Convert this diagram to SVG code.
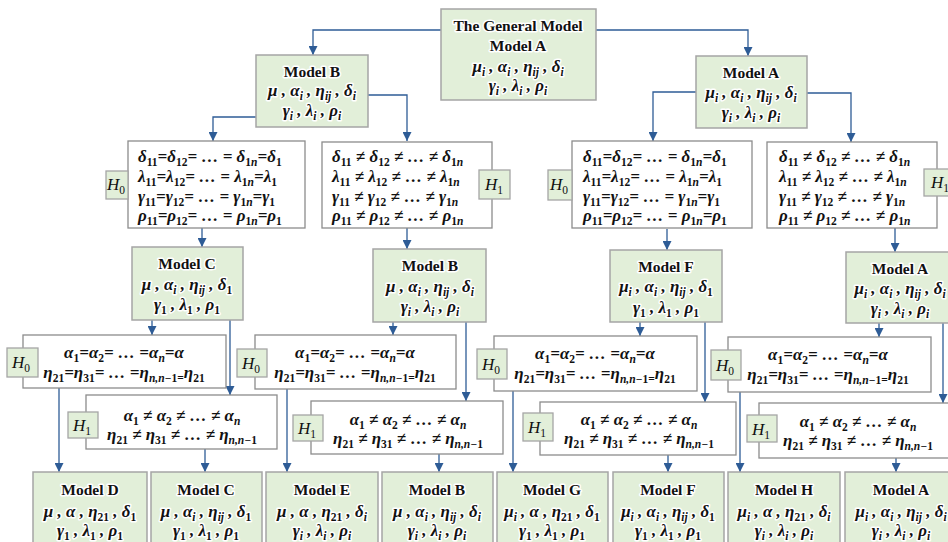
<svg xmlns="http://www.w3.org/2000/svg" width="948" height="542" viewBox="0 0 948 542">
<defs>
<marker id="ah" markerUnits="userSpaceOnUse" markerWidth="9" markerHeight="9" refX="9" refY="4.5" orient="auto"><path d="M0,0 L9,4.5 L0,9 z" fill="#2e5c96"/></marker>
<style>
.g{fill:#e2efd9;stroke:#a5a5a5;stroke-width:1.5}
.w{fill:#fff;stroke:#8c8c8c;stroke-width:1.3}
.hl{fill:#e2efd9;stroke:#a5a5a5;stroke-width:1.3}
text{font-family:"Liberation Serif","DejaVu Serif",serif;fill:#111}
.t{font-size:15.5px;font-weight:bold;text-anchor:middle}
.m{font-size:17px;font-weight:bold;font-style:italic;text-anchor:middle}
.ml{font-size:17px;font-weight:bold;font-style:italic}
.gl{stroke:#fff;stroke-width:3;stroke-linejoin:round;paint-order:stroke}
.s{font-size:11.5px}
.n{font-size:11.5px;font-style:normal}
.h{font-size:17px;font-style:italic;text-anchor:middle}
.c{fill:none;stroke:#2e5c96;stroke-width:1.3;marker-end:url(#ah)}
</style>
</defs>

<g id="connectors">
<path class="c" d="M441,30 H313 V55"/>
<path class="c" d="M596,30 H748 V56"/>
<path class="c" d="M256,117 H213 V141"/>
<path class="c" d="M368,95 H407 V141"/>
<path class="c" d="M696,92 H653 V141"/>
<path class="c" d="M807,93 H851 V142"/>
<path class="c" d="M202,228 V247"/>
<path class="c" d="M407,228 V249"/>
<path class="c" d="M667,229 V250"/>
<path class="c" d="M895,228 V252"/>
<path class="c" d="M152,320 V335"/>
<path class="c" d="M230,320 V395"/>
<path class="c" d="M393,322 V335"/>
<path class="c" d="M466,322 V401"/>
<path class="c" d="M640,322 V336"/>
<path class="c" d="M705,322 V402"/>
<path class="c" d="M879,323 V337"/>
<path class="c" d="M943,323 V403"/>
<path class="c" d="M59,388 V472"/>
<path class="c" d="M205,449 V472"/>
<path class="c" d="M287,389 V472"/>
<path class="c" d="M439,454 V472"/>
<path class="c" d="M513,391 V472"/>
<path class="c" d="M668,455 V472"/>
<path class="c" d="M740,392 V472"/>
<path class="c" d="M896,458 V472"/>
</g>

<g id="general">
<rect class="g" x="441" y="9" width="155" height="91"/>
<text class="t gl" x="518" y="31">The General Model</text>
<text class="t gl" x="518" y="51">Model A</text>
<text class="m gl" x="518" y="72">μ<tspan class="s" dy="3.5">i</tspan><tspan dy="-3.5"> , α</tspan><tspan class="s" dy="3.5">i</tspan><tspan dy="-3.5"> , η</tspan><tspan class="s" dy="3.5">ij</tspan><tspan dy="-3.5"> , δ</tspan><tspan class="s" dy="3.5">i</tspan></text>
<text class="m gl" x="518" y="91">γ<tspan class="s" dy="3.5">i</tspan><tspan dy="-3.5"> , λ</tspan><tspan class="s" dy="3.5">i</tspan><tspan dy="-3.5"> , ρ</tspan><tspan class="s" dy="3.5">i</tspan></text>
</g>

<g id="modelB0">
<rect class="g" x="256" y="55" width="112" height="72"/>
<text class="t gl" x="312" y="77">Model B</text>
<text class="m gl" x="312" y="96">μ , α<tspan class="s" dy="3.5">i</tspan><tspan dy="-3.5"> , η</tspan><tspan class="s" dy="3.5">ij</tspan><tspan dy="-3.5"> , δ</tspan><tspan class="s" dy="3.5">i</tspan></text>
<text class="m gl" x="312" y="116">γ<tspan class="s" dy="3.5">i</tspan><tspan dy="-3.5"> , λ</tspan><tspan class="s" dy="3.5">i</tspan><tspan dy="-3.5"> , ρ</tspan><tspan class="s" dy="3.5">i</tspan></text>
</g>

<g id="modelA0">
<rect class="g" x="696" y="56" width="111" height="72"/>
<text class="t gl" x="751" y="78">Model A</text>
<text class="m gl" x="751" y="98">μ<tspan class="s" dy="3.5">i</tspan><tspan dy="-3.5"> , α</tspan><tspan class="s" dy="3.5">i</tspan><tspan dy="-3.5"> , η</tspan><tspan class="s" dy="3.5">ij</tspan><tspan dy="-3.5"> , δ</tspan><tspan class="s" dy="3.5">i</tspan></text>
<text class="m gl" x="751" y="118">γ<tspan class="s" dy="3.5">i</tspan><tspan dy="-3.5"> , λ</tspan><tspan class="s" dy="3.5">i</tspan><tspan dy="-3.5"> , ρ</tspan><tspan class="s" dy="3.5">i</tspan></text>
</g>

<g id="hypL1a">
<rect class="w" x="128" y="141" width="177" height="87"/>
<rect class="hl" x="106" y="171" width="22" height="28"/>
<text class="h" x="116" y="190">H<tspan class="n" dy="3.5">0</tspan></text>
<text class="ml" x="138" y="162">δ<tspan class="n" dy="3.5">11</tspan><tspan dy="-3.5">=δ</tspan><tspan class="n" dy="3.5">12</tspan><tspan dy="-3.5">= … = δ</tspan><tspan class="n" dy="3.5">1</tspan><tspan class="s">n</tspan><tspan dy="-3.5">=δ</tspan><tspan class="n" dy="3.5">1</tspan></text>
<text class="ml" x="138" y="182">λ<tspan class="n" dy="3.5">11</tspan><tspan dy="-3.5">=λ</tspan><tspan class="n" dy="3.5">12</tspan><tspan dy="-3.5">= … = λ</tspan><tspan class="n" dy="3.5">1</tspan><tspan class="s">n</tspan><tspan dy="-3.5">=λ</tspan><tspan class="n" dy="3.5">1</tspan></text>
<text class="ml" x="138" y="202">γ<tspan class="n" dy="3.5">11</tspan><tspan dy="-3.5">=γ</tspan><tspan class="n" dy="3.5">12</tspan><tspan dy="-3.5">= … = γ</tspan><tspan class="n" dy="3.5">1</tspan><tspan class="s">n</tspan><tspan dy="-3.5">=γ</tspan><tspan class="n" dy="3.5">1</tspan></text>
<text class="ml" x="138" y="221">ρ<tspan class="n" dy="3.5">11</tspan><tspan dy="-3.5">=ρ</tspan><tspan class="n" dy="3.5">12</tspan><tspan dy="-3.5">= … = ρ</tspan><tspan class="n" dy="3.5">1</tspan><tspan class="s">n</tspan><tspan dy="-3.5">=ρ</tspan><tspan class="n" dy="3.5">1</tspan></text>
</g>

<g id="hypL1b">
<rect class="w" x="322" y="142" width="170" height="86"/>
<text class="ml" x="332" y="162">δ<tspan class="n" dy="3.5">11</tspan><tspan dy="-3.5"> ≠ δ</tspan><tspan class="n" dy="3.5">12</tspan><tspan dy="-3.5"> ≠ … ≠ δ</tspan><tspan class="n" dy="3.5">1</tspan><tspan class="s">n</tspan></text>
<text class="ml" x="332" y="182">λ<tspan class="n" dy="3.5">11</tspan><tspan dy="-3.5"> ≠ λ</tspan><tspan class="n" dy="3.5">12</tspan><tspan dy="-3.5"> ≠ … ≠ λ</tspan><tspan class="n" dy="3.5">1</tspan><tspan class="s">n</tspan></text>
<text class="ml" x="332" y="202">γ<tspan class="n" dy="3.5">11</tspan><tspan dy="-3.5"> ≠ γ</tspan><tspan class="n" dy="3.5">12</tspan><tspan dy="-3.5"> ≠ … ≠ γ</tspan><tspan class="n" dy="3.5">1</tspan><tspan class="s">n</tspan></text>
<text class="ml" x="332" y="221">ρ<tspan class="n" dy="3.5">11</tspan><tspan dy="-3.5"> ≠ ρ</tspan><tspan class="n" dy="3.5">12</tspan><tspan dy="-3.5"> ≠ … ≠ ρ</tspan><tspan class="n" dy="3.5">1</tspan><tspan class="s">n</tspan></text>
<rect class="hl" x="479" y="170" width="31" height="29"/>
<text class="h" x="494" y="190">H<tspan class="n" dy="3.5">1</tspan></text>
</g>

<g id="hypL1c">
<rect class="w" x="572" y="141" width="180" height="87"/>
<rect class="hl" x="548" y="170" width="24" height="30"/>
<text class="h" x="559" y="190">H<tspan class="n" dy="3.5">0</tspan></text>
<text class="ml" x="583" y="162">δ<tspan class="n" dy="3.5">11</tspan><tspan dy="-3.5">=δ</tspan><tspan class="n" dy="3.5">12</tspan><tspan dy="-3.5">= … = δ</tspan><tspan class="n" dy="3.5">1</tspan><tspan class="s">n</tspan><tspan dy="-3.5">=δ</tspan><tspan class="n" dy="3.5">1</tspan></text>
<text class="ml" x="583" y="182">λ<tspan class="n" dy="3.5">11</tspan><tspan dy="-3.5">=λ</tspan><tspan class="n" dy="3.5">12</tspan><tspan dy="-3.5">= … = λ</tspan><tspan class="n" dy="3.5">1</tspan><tspan class="s">n</tspan><tspan dy="-3.5">=λ</tspan><tspan class="n" dy="3.5">1</tspan></text>
<text class="ml" x="583" y="202">γ<tspan class="n" dy="3.5">11</tspan><tspan dy="-3.5">=γ</tspan><tspan class="n" dy="3.5">12</tspan><tspan dy="-3.5">= … = γ</tspan><tspan class="n" dy="3.5">1</tspan><tspan class="s">n</tspan><tspan dy="-3.5">=γ</tspan><tspan class="n" dy="3.5">1</tspan></text>
<text class="ml" x="583" y="221">ρ<tspan class="n" dy="3.5">11</tspan><tspan dy="-3.5">=ρ</tspan><tspan class="n" dy="3.5">12</tspan><tspan dy="-3.5">= … = ρ</tspan><tspan class="n" dy="3.5">1</tspan><tspan class="s">n</tspan><tspan dy="-3.5">=ρ</tspan><tspan class="n" dy="3.5">1</tspan></text>
</g>

<g id="hypL1d">
<rect class="w" x="767" y="142" width="170" height="86"/>
<text class="ml" x="779" y="162">δ<tspan class="n" dy="3.5">11</tspan><tspan dy="-3.5"> ≠ δ</tspan><tspan class="n" dy="3.5">12</tspan><tspan dy="-3.5"> ≠ … ≠ δ</tspan><tspan class="n" dy="3.5">1</tspan><tspan class="s">n</tspan></text>
<text class="ml" x="779" y="182">λ<tspan class="n" dy="3.5">11</tspan><tspan dy="-3.5"> ≠ λ</tspan><tspan class="n" dy="3.5">12</tspan><tspan dy="-3.5"> ≠ … ≠ λ</tspan><tspan class="n" dy="3.5">1</tspan><tspan class="s">n</tspan></text>
<text class="ml" x="779" y="202">γ<tspan class="n" dy="3.5">11</tspan><tspan dy="-3.5"> ≠ γ</tspan><tspan class="n" dy="3.5">12</tspan><tspan dy="-3.5"> ≠ … ≠ γ</tspan><tspan class="n" dy="3.5">1</tspan><tspan class="s">n</tspan></text>
<text class="ml" x="779" y="221">ρ<tspan class="n" dy="3.5">11</tspan><tspan dy="-3.5"> ≠ ρ</tspan><tspan class="n" dy="3.5">12</tspan><tspan dy="-3.5"> ≠ … ≠ ρ</tspan><tspan class="n" dy="3.5">1</tspan><tspan class="s">n</tspan></text>
<rect class="hl" x="924" y="169" width="32" height="27"/>
<text class="h" x="940" y="188">H<tspan class="n" dy="3.5">1</tspan></text>
</g>

<g id="modelC2">
<rect class="g" x="132" y="247" width="111" height="73"/>
<text class="t gl" x="187" y="269">Model C</text>
<text class="m gl" x="187" y="290">μ , α<tspan class="s" dy="3.5">i</tspan><tspan dy="-3.5"> , η</tspan><tspan class="s" dy="3.5">ij</tspan><tspan dy="-3.5"> , δ</tspan><tspan class="n" dy="3.5">1</tspan></text>
<text class="m gl" x="187" y="310">γ<tspan class="n" dy="3.5">1</tspan><tspan dy="-3.5"> , λ</tspan><tspan class="n" dy="3.5">1</tspan><tspan dy="-3.5"> , ρ</tspan><tspan class="n" dy="3.5">1</tspan></text>
</g>

<g id="modelB2">
<rect class="g" x="373" y="249" width="113" height="73"/>
<text class="t gl" x="430" y="271">Model B</text>
<text class="m gl" x="430" y="292">μ , α<tspan class="s" dy="3.5">i</tspan><tspan dy="-3.5"> , η</tspan><tspan class="s" dy="3.5">ij</tspan><tspan dy="-3.5"> , δ</tspan><tspan class="s" dy="3.5">i</tspan></text>
<text class="m gl" x="430" y="312">γ<tspan class="s" dy="3.5">i</tspan><tspan dy="-3.5"> , λ</tspan><tspan class="s" dy="3.5">i</tspan><tspan dy="-3.5"> , ρ</tspan><tspan class="s" dy="3.5">i</tspan></text>
</g>

<g id="modelF2">
<rect class="g" x="610" y="250" width="112" height="72"/>
<text class="t gl" x="666" y="272">Model F</text>
<text class="m gl" x="666" y="292">μ<tspan class="s" dy="3.5">i</tspan><tspan dy="-3.5"> , α</tspan><tspan class="s" dy="3.5">i</tspan><tspan dy="-3.5"> , η</tspan><tspan class="s" dy="3.5">ij</tspan><tspan dy="-3.5"> , δ</tspan><tspan class="n" dy="3.5">1</tspan></text>
<text class="m gl" x="666" y="313">γ<tspan class="n" dy="3.5">1</tspan><tspan dy="-3.5"> , λ</tspan><tspan class="n" dy="3.5">1</tspan><tspan dy="-3.5"> , ρ</tspan><tspan class="n" dy="3.5">1</tspan></text>
</g>

<g id="modelA2">
<rect class="g" x="846" y="252" width="110" height="71"/>
<text class="t gl" x="900" y="274">Model A</text>
<text class="m gl" x="900" y="294">μ<tspan class="s" dy="3.5">i</tspan><tspan dy="-3.5"> , α</tspan><tspan class="s" dy="3.5">i</tspan><tspan dy="-3.5"> , η</tspan><tspan class="s" dy="3.5">ij</tspan><tspan dy="-3.5"> , δ</tspan><tspan class="s" dy="3.5">i</tspan></text>
<text class="m gl" x="900" y="314">γ<tspan class="s" dy="3.5">i</tspan><tspan dy="-3.5"> , λ</tspan><tspan class="s" dy="3.5">i</tspan><tspan dy="-3.5"> , ρ</tspan><tspan class="s" dy="3.5">i</tspan></text>
</g>

<g id="g1H0">
<rect class="w" x="23" y="335" width="203" height="53"/>
<rect class="hl" x="7" y="348" width="31" height="29"/>
<text class="h" x="21" y="368">H<tspan class="n" dy="3.5">0</tspan></text>
<text class="m" x="124" y="358">α<tspan class="n" dy="3.5">1</tspan><tspan dy="-3.5">=α</tspan><tspan class="n" dy="3.5">2</tspan><tspan dy="-3.5">= … =α</tspan><tspan class="s" dy="3.5">n</tspan><tspan dy="-3.5">=α</tspan></text>
<text class="m" x="124" y="378">η<tspan class="n" dy="3.5">21</tspan><tspan dy="-3.5">=η</tspan><tspan class="n" dy="3.5">31</tspan><tspan dy="-3.5">= … =η</tspan><tspan class="s" dy="3.5">n,n−</tspan><tspan class="n">1=</tspan><tspan dy="-3.5">η</tspan><tspan class="n" dy="3.5">21</tspan></text>
</g>

<g id="g1H1">
<rect class="w" x="86" y="395" width="191" height="54"/>
<rect class="hl" x="68" y="412" width="30" height="26"/>
<text class="h" x="82" y="431">H<tspan class="n" dy="3.5">1</tspan></text>
<text class="m" x="182" y="421">α<tspan class="n" dy="3.5">1</tspan><tspan dy="-3.5"> ≠ α</tspan><tspan class="n" dy="3.5">2</tspan><tspan dy="-3.5"> ≠ … ≠ α</tspan><tspan class="s" dy="3.5">n</tspan></text>
<text class="m" x="182" y="440">η<tspan class="n" dy="3.5">21</tspan><tspan dy="-3.5"> ≠ η</tspan><tspan class="n" dy="3.5">31</tspan><tspan dy="-3.5"> ≠ … ≠ η</tspan><tspan class="s" dy="3.5">n,n−</tspan><tspan class="n">1</tspan></text>
</g>

<g id="g2H0">
<rect class="w" x="255" y="335" width="201" height="54"/>
<rect class="hl" x="237" y="349" width="30" height="28"/>
<text class="h" x="251" y="369">H<tspan class="n" dy="3.5">0</tspan></text>
<text class="m" x="355" y="358">α<tspan class="n" dy="3.5">1</tspan><tspan dy="-3.5">=α</tspan><tspan class="n" dy="3.5">2</tspan><tspan dy="-3.5">= … =α</tspan><tspan class="s" dy="3.5">n</tspan><tspan dy="-3.5">=α</tspan></text>
<text class="m" x="355" y="378">η<tspan class="n" dy="3.5">21</tspan><tspan dy="-3.5">=η</tspan><tspan class="n" dy="3.5">31</tspan><tspan dy="-3.5">= … =η</tspan><tspan class="s" dy="3.5">n,n−</tspan><tspan class="n">1=</tspan><tspan dy="-3.5">η</tspan><tspan class="n" dy="3.5">21</tspan></text>
</g>

<g id="g2H1">
<rect class="w" x="311" y="401" width="192" height="53"/>
<rect class="hl" x="293" y="415" width="30" height="26"/>
<text class="h" x="307" y="434">H<tspan class="n" dy="3.5">1</tspan></text>
<text class="m" x="408" y="425">α<tspan class="n" dy="3.5">1</tspan><tspan dy="-3.5"> ≠ α</tspan><tspan class="n" dy="3.5">2</tspan><tspan dy="-3.5"> ≠ … ≠ α</tspan><tspan class="s" dy="3.5">n</tspan></text>
<text class="m" x="408" y="444">η<tspan class="n" dy="3.5">21</tspan><tspan dy="-3.5"> ≠ η</tspan><tspan class="n" dy="3.5">31</tspan><tspan dy="-3.5"> ≠ … ≠ η</tspan><tspan class="s" dy="3.5">n,n−</tspan><tspan class="n">1</tspan></text>
</g>

<g id="g3H0">
<rect class="w" x="494" y="336" width="203" height="55"/>
<rect class="hl" x="477" y="349" width="30" height="30"/>
<text class="h" x="491" y="370">H<tspan class="n" dy="3.5">0</tspan></text>
<text class="m" x="595" y="359">α<tspan class="n" dy="3.5">1</tspan><tspan dy="-3.5">=α</tspan><tspan class="n" dy="3.5">2</tspan><tspan dy="-3.5">= … =α</tspan><tspan class="s" dy="3.5">n</tspan><tspan dy="-3.5">=α</tspan></text>
<text class="m" x="595" y="379">η<tspan class="n" dy="3.5">21</tspan><tspan dy="-3.5">=η</tspan><tspan class="n" dy="3.5">31</tspan><tspan dy="-3.5">= … =η</tspan><tspan class="s" dy="3.5">n,n−</tspan><tspan class="n">1=</tspan><tspan dy="-3.5">η</tspan><tspan class="n" dy="3.5">21</tspan></text>
</g>

<g id="g3H1">
<rect class="w" x="540" y="402" width="196" height="53"/>
<rect class="hl" x="523" y="413" width="30" height="28"/>
<text class="h" x="537" y="433">H<tspan class="n" dy="3.5">1</tspan></text>
<text class="m" x="639" y="425">α<tspan class="n" dy="3.5">1</tspan><tspan dy="-3.5"> ≠ α</tspan><tspan class="n" dy="3.5">2</tspan><tspan dy="-3.5"> ≠ … ≠ α</tspan><tspan class="s" dy="3.5">n</tspan></text>
<text class="m" x="639" y="444">η<tspan class="n" dy="3.5">21</tspan><tspan dy="-3.5"> ≠ η</tspan><tspan class="n" dy="3.5">31</tspan><tspan dy="-3.5"> ≠ … ≠ η</tspan><tspan class="s" dy="3.5">n,n−</tspan><tspan class="n">1</tspan></text>
</g>

<g id="g4H0">
<rect class="w" x="728" y="337" width="203" height="55"/>
<rect class="hl" x="711" y="350" width="30" height="30"/>
<text class="h" x="725" y="371">H<tspan class="n" dy="3.5">0</tspan></text>
<text class="m" x="828" y="360">α<tspan class="n" dy="3.5">1</tspan><tspan dy="-3.5">=α</tspan><tspan class="n" dy="3.5">2</tspan><tspan dy="-3.5">= … =α</tspan><tspan class="s" dy="3.5">n</tspan><tspan dy="-3.5">=α</tspan></text>
<text class="m" x="828" y="380">η<tspan class="n" dy="3.5">21</tspan><tspan dy="-3.5">=η</tspan><tspan class="n" dy="3.5">31</tspan><tspan dy="-3.5">= … =η</tspan><tspan class="s" dy="3.5">n,n−</tspan><tspan class="n">1=</tspan><tspan dy="-3.5">η</tspan><tspan class="n" dy="3.5">21</tspan></text>
</g>

<g id="g4H1">
<rect class="w" x="759" y="403" width="197" height="55"/>
<rect class="hl" x="747" y="415" width="30" height="27"/>
<text class="h" x="761" y="435">H<tspan class="n" dy="3.5">1</tspan></text>
<text class="m" x="858" y="427">α<tspan class="n" dy="3.5">1</tspan><tspan dy="-3.5"> ≠ α</tspan><tspan class="n" dy="3.5">2</tspan><tspan dy="-3.5"> ≠ … ≠ α</tspan><tspan class="s" dy="3.5">n</tspan></text>
<text class="m" x="858" y="446">η<tspan class="n" dy="3.5">21</tspan><tspan dy="-3.5"> ≠ η</tspan><tspan class="n" dy="3.5">31</tspan><tspan dy="-3.5"> ≠ … ≠ η</tspan><tspan class="s" dy="3.5">n,n−</tspan><tspan class="n">1</tspan></text>
</g>

<g id="modelD">
<rect class="g" x="33" y="472" width="114" height="80"/>
<text class="t gl" x="90" y="495">Model D</text>
<text class="m gl" x="90" y="517">μ , α , η<tspan class="n" dy="3.5">21</tspan><tspan dy="-3.5"> , δ</tspan><tspan class="n" dy="3.5">1</tspan></text>
<text class="m gl" x="90" y="536">γ<tspan class="n" dy="3.5">1</tspan><tspan dy="-3.5"> , λ</tspan><tspan class="n" dy="3.5">1</tspan><tspan dy="-3.5"> , ρ</tspan><tspan class="n" dy="3.5">1</tspan></text>
</g>

<g id="modelC">
<rect class="g" x="151" y="472" width="111" height="80"/>
<text class="t gl" x="206" y="495">Model C</text>
<text class="m gl" x="206" y="517">μ , α<tspan class="s" dy="3.5">i</tspan><tspan dy="-3.5"> , η</tspan><tspan class="s" dy="3.5">ij</tspan><tspan dy="-3.5"> , δ</tspan><tspan class="n" dy="3.5">1</tspan></text>
<text class="m gl" x="206" y="536">γ<tspan class="n" dy="3.5">1</tspan><tspan dy="-3.5"> , λ</tspan><tspan class="n" dy="3.5">1</tspan><tspan dy="-3.5"> , ρ</tspan><tspan class="n" dy="3.5">1</tspan></text>
</g>

<g id="modelE">
<rect class="g" x="266" y="472" width="112" height="80"/>
<text class="t gl" x="322" y="495">Model E</text>
<text class="m gl" x="322" y="517">μ , α , η<tspan class="n" dy="3.5">21</tspan><tspan dy="-3.5"> , δ</tspan><tspan class="s" dy="3.5">i</tspan></text>
<text class="m gl" x="322" y="536">γ<tspan class="s" dy="3.5">i</tspan><tspan dy="-3.5"> , λ</tspan><tspan class="s" dy="3.5">i</tspan><tspan dy="-3.5"> , ρ</tspan><tspan class="s" dy="3.5">i</tspan></text>
</g>

<g id="modelB">
<rect class="g" x="382" y="472" width="111" height="80"/>
<text class="t gl" x="437" y="495">Model B</text>
<text class="m gl" x="437" y="517">μ , α<tspan class="s" dy="3.5">i</tspan><tspan dy="-3.5"> , η</tspan><tspan class="s" dy="3.5">ij</tspan><tspan dy="-3.5"> , δ</tspan><tspan class="s" dy="3.5">i</tspan></text>
<text class="m gl" x="437" y="536">γ<tspan class="s" dy="3.5">i</tspan><tspan dy="-3.5"> , λ</tspan><tspan class="s" dy="3.5">i</tspan><tspan dy="-3.5"> , ρ</tspan><tspan class="s" dy="3.5">i</tspan></text>
</g>

<g id="modelG">
<rect class="g" x="497" y="472" width="111" height="80"/>
<text class="t gl" x="552" y="495">Model G</text>
<text class="m gl" x="552" y="517">μ<tspan class="s" dy="3.5">i</tspan><tspan dy="-3.5"> , α , η</tspan><tspan class="n" dy="3.5">21</tspan><tspan dy="-3.5"> , δ</tspan><tspan class="n" dy="3.5">1</tspan></text>
<text class="m gl" x="552" y="536">γ<tspan class="n" dy="3.5">1</tspan><tspan dy="-3.5"> , λ</tspan><tspan class="n" dy="3.5">1</tspan><tspan dy="-3.5"> , ρ</tspan><tspan class="n" dy="3.5">1</tspan></text>
</g>

<g id="modelF">
<rect class="g" x="613" y="472" width="111" height="80"/>
<text class="t gl" x="668" y="495">Model F</text>
<text class="m gl" x="668" y="517">μ<tspan class="s" dy="3.5">i</tspan><tspan dy="-3.5"> , α</tspan><tspan class="s" dy="3.5">i</tspan><tspan dy="-3.5"> , η</tspan><tspan class="s" dy="3.5">ij</tspan><tspan dy="-3.5"> , δ</tspan><tspan class="n" dy="3.5">1</tspan></text>
<text class="m gl" x="668" y="536">γ<tspan class="n" dy="3.5">1</tspan><tspan dy="-3.5"> , λ</tspan><tspan class="n" dy="3.5">1</tspan><tspan dy="-3.5"> , ρ</tspan><tspan class="n" dy="3.5">1</tspan></text>
</g>

<g id="modelH">
<rect class="g" x="728" y="472" width="112" height="80"/>
<text class="t gl" x="784" y="495">Model H</text>
<text class="m gl" x="784" y="517">μ<tspan class="s" dy="3.5">i</tspan><tspan dy="-3.5"> , α , η</tspan><tspan class="n" dy="3.5">21</tspan><tspan dy="-3.5"> , δ</tspan><tspan class="s" dy="3.5">i</tspan></text>
<text class="m gl" x="784" y="536">γ<tspan class="s" dy="3.5">i</tspan><tspan dy="-3.5"> , λ</tspan><tspan class="s" dy="3.5">i</tspan><tspan dy="-3.5"> , ρ</tspan><tspan class="s" dy="3.5">i</tspan></text>
</g>

<g id="modelA">
<rect class="g" x="845" y="472" width="112" height="80"/>
<text class="t gl" x="901" y="495">Model A</text>
<text class="m gl" x="901" y="517">μ<tspan class="s" dy="3.5">i</tspan><tspan dy="-3.5"> , α</tspan><tspan class="s" dy="3.5">i</tspan><tspan dy="-3.5"> , η</tspan><tspan class="s" dy="3.5">ij</tspan><tspan dy="-3.5"> , δ</tspan><tspan class="s" dy="3.5">i</tspan></text>
<text class="m gl" x="901" y="536">γ<tspan class="s" dy="3.5">i</tspan><tspan dy="-3.5"> , λ</tspan><tspan class="s" dy="3.5">i</tspan><tspan dy="-3.5"> , ρ</tspan><tspan class="s" dy="3.5">i</tspan></text>
</g>
</svg>
